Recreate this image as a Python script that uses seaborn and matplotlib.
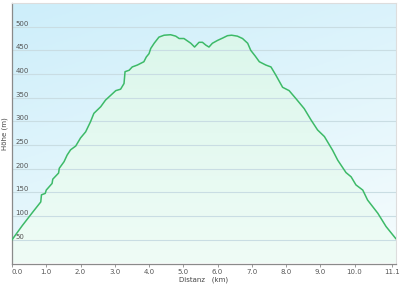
import numpy as np
import pandas as pd
import seaborn as sns
import matplotlib
matplotlib.use("Agg")
import matplotlib.pyplot as plt
from matplotlib.colors import LinearSegmentedColormap

km = [0.0, 0.3, 0.6, 0.84, 0.86, 0.97, 1.0, 1.17, 1.19, 1.36, 1.38, 1.52, 1.61,
      1.71, 1.86, 2.0, 2.15, 2.29, 2.39, 2.59, 2.73, 2.88, 3.03, 3.17, 3.27, 3.3,
      3.42, 3.51, 3.66, 3.85, 3.92, 4.0, 4.05, 4.15, 4.29, 4.44, 4.63, 4.78, 4.88,
      5.02, 5.22, 5.33, 5.46, 5.56, 5.66, 5.75, 5.85, 6.0, 6.15, 6.29, 6.41, 6.58,
      6.73, 6.88, 6.97, 7.1, 7.22, 7.41, 7.56, 7.7, 7.9, 8.09, 8.29, 8.53, 8.73,
      8.92, 9.12, 9.36, 9.51, 9.75, 9.9, 10.04, 10.24, 10.38, 10.68, 10.92, 11.21]
elev = [50, 80, 108, 130, 145, 148, 155, 169, 178, 191, 201, 215, 229, 240, 248,
        265, 278, 299, 317, 331, 345, 355, 365, 368, 380, 405, 408, 415, 419, 426,
        436, 443, 454, 465, 478, 482, 483, 480, 475, 475, 465, 457, 467, 467, 461,
        457, 465, 471, 476, 481, 482, 480, 475, 465, 450, 438, 426, 419, 415, 398,
        372, 365, 348, 327, 303, 282, 268, 239, 218, 192, 183, 166, 155, 134, 106,
        78, 52]
xticks = [0.0, 1.0, 2.0, 3.0, 4.0, 5.0, 6.0, 7.0, 8.0, 9.0, 10.0, 11.1]
yticks = [50, 100, 150, 200, 250, 300, 350, 400, 450, 500]

df = pd.DataFrame({"km": km, "elev": elev})

sns.set_theme(style="white")
plt.rcParams["font.family"] = ["DejaVu Sans"]

fig = plt.figure(figsize=(4.0, 2.85), dpi=100)
ax = fig.add_axes([12/400, 1 - 263.5/285, (396 - 12)/400, (263.5 - 3)/285])
ax.set_axisbelow(False)
xmax, ymax = 11.21, 550
ax.set_xlim(0, xmax)
ax.set_ylim(0, ymax)

# background gradient (light blue top-left -> near white bottom-right)
yy, xx = np.mgrid[0:1:200j, 0:1:200j]
t = np.clip(0.75 * yy + 0.35 * xx, 0, 1)
bg_cmap = LinearSegmentedColormap.from_list("bg", ["#f2fbfd", "#cdeefa"])
ax.imshow(1 - t, extent=[0, xmax, 0, ymax], origin="upper",
          cmap=bg_cmap, aspect="auto", zorder=0, vmin=0, vmax=1)

# fill under the curve with a mint gradient
fill = ax.fill_between(df["km"], df["elev"], 0, color="none", zorder=1)
g = np.linspace(0, 1, 200).reshape(-1, 1)
fill_cmap = LinearSegmentedColormap.from_list("fl", ["#effcf6", "#d9f6ea"])
im = ax.imshow(g, extent=[0, xmax, 0, ymax], origin="lower", cmap=fill_cmap,
               aspect="auto", zorder=1)
im.set_clip_path(fill.get_paths()[0], transform=ax.transData)

for y in yticks:
    ax.axhline(y, color="#c9dde3", lw=0.8, zorder=1.5)

sns.lineplot(data=df, x="km", y="elev", ax=ax, color="#3dba68", lw=1.1, zorder=3)

ax.set_xticks(xticks)
ax.set_xticklabels([f"{v:.1f}" for v in xticks])
ax.set_yticks(yticks)
ax.set_yticklabels([str(v) for v in yticks])
ax.tick_params(axis="x", length=2, width=0.6, color="#888888", pad=2,
               labelsize=5, labelcolor="#555555", direction="out", bottom=True)
ax.tick_params(axis="y", length=0, pad=-2.5, labelsize=5, labelcolor="#555555")
for lab in ax.get_yticklabels():
    lab.set_horizontalalignment("left")
    lab.set_verticalalignment("bottom")
ax.get_xticklabels()[0].set_horizontalalignment("left")

ax.set_xlabel("Distanz   (km)", fontsize=5, color="#444444", labelpad=1)
ax.set_ylabel("Höhe (m)", fontsize=5, color="#444444", labelpad=3)

for side in ["top", "right"]:
    ax.spines[side].set_color("#dddddd")
    ax.spines[side].set_linewidth(0.8)
for side in ["left", "bottom"]:
    ax.spines[side].set_color("#8a8a8a")
    ax.spines[side].set_linewidth(0.9)

fig.savefig("out.png", dpi=100, facecolor="white")
